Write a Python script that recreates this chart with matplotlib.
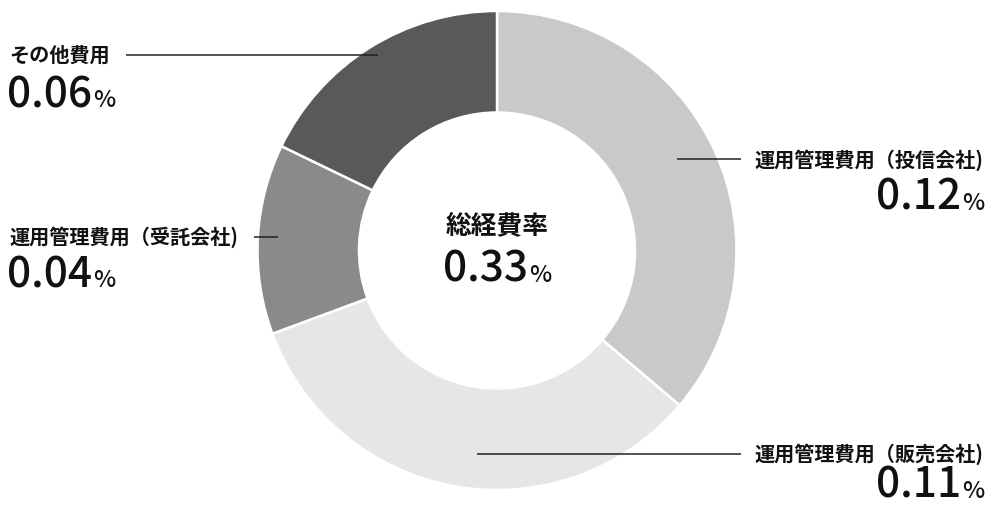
import matplotlib
matplotlib.use("Agg")
import matplotlib.pyplot as plt

plt.rcParams['font.family'] = ['Noto Sans CJK JP', 'DejaVu Sans']

categories = ["運用管理費用（投信会社）", "運用管理費用（販売会社）", "運用管理費用（受託会社）", "その他費用"]
display_labels = ["運用管理費用（投信会社)", "運用管理費用（販売会社)", "運用管理費用（受託会社)", "その他費用"]
# slice sizes as measured from the wedge angles; the labels show rounded values
values = [0.1194, 0.1094, 0.0423, 0.0588]
value_labels = ["0.12", "0.11", "0.04", "0.06"]
total_label = "0.33"
center_title = "総経費率"
colors = ["#c8c9c8", "#e6e6e6", "#8a8a8a", "#5a5859"]

W, H = 987, 507
fig = plt.figure(figsize=(W / 100, H / 100), dpi=100)
ax = fig.add_axes([0, 0, 1, 1])

def Y(py):
    return H - py

cx, cy, R = 497, 250.5, 239.5
ax.pie(values, colors=colors, startangle=90, counterclock=False,
       center=(cx, Y(cy)), radius=R, frame=True,
       wedgeprops=dict(width=R - 138, edgecolor='white', linewidth=1.8))
ax.set_xlim(0, W)
ax.set_ylim(0, H)
ax.set_aspect('equal')
ax.axis('off')

# leader lines (pixel coords): (x0, x1, y)
leaders = {
    0: (677, 741, 159),
    1: (477, 741, 454),
    2: (254, 278, 237),
    3: (126, 378, 55),
}
for i, (x0, x1, y) in leaders.items():
    ax.plot([x0, x1], [Y(y), Y(y)], color='#222222', lw=1.1, solid_capstyle='butt')

renderer = fig.canvas.get_renderer()
NUM_FS, PCT_FS, NUM_W, GAP = 30.5, 17, 'medium', 1

def value_text(x, y_base, num, ha):
    kw = dict(va='baseline', color='#111111', fontweight=NUM_W)
    if ha == 'left':
        t = ax.text(x, Y(y_base), num, fontsize=NUM_FS, ha='left', **kw)
        bb = t.get_window_extent(renderer)
        ax.text(bb.x1 + GAP, Y(y_base), "%", fontsize=PCT_FS, ha='left', **kw)
    elif ha == 'right':
        p = ax.text(x, Y(y_base), "%", fontsize=PCT_FS, ha='right', **kw)
        bb = p.get_window_extent(renderer)
        ax.text(bb.x0 - GAP, Y(y_base), num, fontsize=NUM_FS, ha='right', **kw)
    else:
        t = ax.text(0, 0, num, fontsize=NUM_FS, fontweight=NUM_W)
        p = ax.text(0, 0, "%", fontsize=PCT_FS, fontweight=NUM_W)
        w1 = t.get_window_extent(renderer).width
        w2 = p.get_window_extent(renderer).width
        t.remove(); p.remove()
        total = w1 + GAP + w2
        x0 = x - total / 2
        ax.text(x0, Y(y_base), num, fontsize=NUM_FS, ha='left', **kw)
        ax.text(x0 + w1 + GAP, Y(y_base), "%", fontsize=PCT_FS, ha='left', **kw)

label_kw = dict(fontsize=14.5, fontweight='bold', va='center', color='#111111')

# 投信会社 (right)
ax.text(983, Y(160), display_labels[0], ha='right', **label_kw)
value_text(984, 210, value_labels[0], 'right')
# 販売会社 (right bottom)
ax.text(983, Y(454), display_labels[1], ha='right', **label_kw)
value_text(984, 498, value_labels[1], 'right')
# 受託会社 (left)
ax.text(9, Y(237), display_labels[2], ha='left', **label_kw)
value_text(7, 287, value_labels[2], 'left')
# その他費用 (left top)
ax.text(9, Y(55), display_labels[3], ha='left', **label_kw)
value_text(7, 107, value_labels[3], 'left')

# center
ax.text(497, Y(226), center_title, ha='center', va='center', fontsize=18.5, fontweight='bold', color='#111111')
value_text(497, 282, total_label, 'center')

fig.savefig("out.png", dpi=100)
